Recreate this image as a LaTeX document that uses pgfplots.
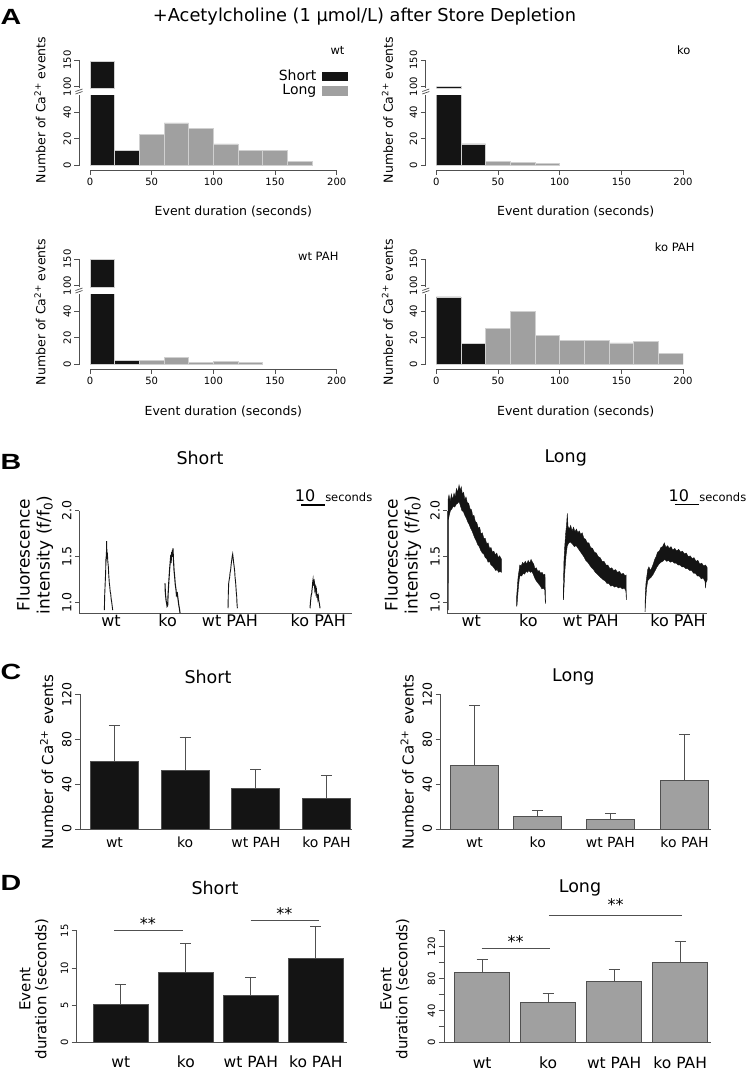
\documentclass[border=0pt]{standalone}
\usepackage{fontspec}
\setmainfont{DejaVu Sans}
\newfontfamily\panelfont{Liberation Sans}
\usepackage{pgfplots}
\pgfplotsset{compat=1.18}
\definecolor{ax}{HTML}{505050}
\definecolor{blk}{HTML}{141414}
\definecolor{gry}{HTML}{A0A0A0}
\definecolor{edge}{HTML}{D0D0D0}
\newcommand{\fs}[1]{\fontsize{#1pt}{#1pt}\selectfont}
\pgfplotsset{
 rbase/.style={
   scale only axis,
   axis x line=bottom, axis y line=left,
   axis line style={-, draw=ax, line width=0.8pt},
   tick style={draw=ax, line width=0.8pt},
   tick align=outside, major tick length=5pt,
   /pgf/number format/assume math mode=true,
   yticklabel style={rotate=90, anchor=south},
 },
 hist/.style={rbase, width=246.7pt, xmin=0, xmax=200,
   axis y line shift=10.5pt,
   tick label style={font=\fs{10}},
 },
 lowh/.style={hist, height=69.8pt, ymin=0, ymax=53, ytick={0,20,40}, xtick={0,50,100,150,200}, axis x line shift=5pt},
 upph/.style={hist, height=28.3pt, ymin=97, ymax=150, ytick={100,150}, axis x line=none, xtick=\empty},
 sbar/.style={ybar interval, fill=blk, draw=edge, line width=0.5pt},
 lbar/.style={ybar interval, fill=gry, draw=edge, line width=0.5pt},
 trace/.style={rbase, clip=false, height=102.6pt, ymin=0.885, ymax=2.0, major tick length=4pt,
   ytick={1,1.5,2}, yticklabels={1.0,1.5,2.0}, xtick style={draw=none},
   yticklabel style={font=\fs{12.5}}, xticklabel style={font=\fs{16}, anchor=base, yshift=-9pt}},
 cbar/.style={rbase, height=134.7pt, ymin=0, ymax=120, ytick={0,40,80,120}, xtick style={draw=none},
   yticklabel style={font=\fs{12.5}}, xticklabel style={font=\fs{14}, anchor=base, yshift=-13pt},
   xticklabels={wt,ko,wt PAH,ko PAH}},
 dbar/.style={rbase, clip=false, height=112pt, ymin=0, xtick style={draw=none},
   yticklabel style={font=\fs{10}}, xticklabel style={font=\fs{15.5}, anchor=base, yshift=-20pt},
   xtick={1,2,3,4}, xticklabels={wt,ko,wt PAH,ko PAH}},
 ebar/.style={ybar, bar shift=0pt, draw=ax, line width=0.8pt,
   error bars/y dir=plus, error bars/y explicit,
   error bars/error bar style={draw=ax, line width=0.8pt},
   error bars/error mark options={rotate=90, draw=ax, line width=0.8pt, mark size=5.5pt}},
}
\begin{document}
\begin{tikzpicture}
\path[use as bounding box] (0,0) rectangle (748pt,-1072pt);

% ---------------- Panel A ----------------
\node[font={\panelfont\bfseries\fs{22}}, xscale=1.3] at (11pt,-17pt) {A};
\node[font=\fs{17.8}] at (364.5pt,-16.7pt) {+Acetylcholine (1 μmol/L) after Store Depletion};

% wt
\begin{axis}[lowh, at={(90pt,-165pt)}, anchor=south west,
  legend style={draw=none, fill=none, at={(1.046,1.36)}, anchor=north east, font=\fs{14},
    inner sep=0pt, row sep=2pt, column sep=6pt, nodes={inner sep=0pt}},
  legend cell align=right, legend plot pos=right]
\addplot[sbar, legend image code/.code={\fill[blk] (0pt,-4pt) rectangle (25pt,4pt);}] coordinates {(0,147)(20,11)(40,0)};
\addlegendentry{Short}
\addplot[lbar, legend image code/.code={\fill[gry] (0pt,-4.5pt) rectangle (25pt,4.5pt);}] coordinates {(40,23)(60,32)(80,28)(100,16)(120,11)(140,11)(160,3)(180,0)};
\addlegendentry{Long}
\end{axis}
\begin{axis}[upph, at={(90pt,-88.3pt)}, anchor=south west]
\addplot[sbar] coordinates {(0,147)(20,0)};
\end{axis}

% ko
\begin{axis}[lowh, at={(436.3pt,-165pt)}, anchor=south west]
\addplot[sbar] coordinates {(0,100)(20,16)(40,0)};
\addplot[lbar] coordinates {(40,3)(60,2)(80,1)(100,0)};
\end{axis}
\begin{axis}[upph, at={(436.3pt,-88.3pt)}, anchor=south west]
\addplot[sbar] coordinates {(0,100)(20,0)};
\end{axis}

% wt PAH
\begin{axis}[lowh, at={(90pt,-364pt)}, anchor=south west]
\addplot[sbar] coordinates {(0,149)(20,3)(40,0)};
\addplot[lbar] coordinates {(40,3)(60,5)(80,1)(100,2)(120,1)(140,0)};
\end{axis}
\begin{axis}[upph, at={(90pt,-287.3pt)}, anchor=south west]
\addplot[sbar] coordinates {(0,149)(20,0)};
\end{axis}

% ko PAH
\begin{axis}[lowh, at={(436.3pt,-364pt)}, anchor=south west]
\addplot[sbar] coordinates {(0,51)(20,15.5)(40,0)};
\addplot[lbar] coordinates {(40,27)(60,40)(80,22)(100,18)(120,18)(140,16)(160,17)(180,8)(200,0)};
\end{axis}
\begin{axis}[upph, at={(436.3pt,-287.3pt)}, anchor=south west]
\addplot[draw=none] coordinates {(0,120)};
\end{axis}

% axis break marks
\foreach \bx/\by in {79/92, 425.8/92, 79/291, 425.8/291}{
  \draw[ax, line width=0.7pt] (\bx pt-3.5pt,-\by pt-2pt) -- (\bx pt+3.5pt,-\by pt+0.5pt)
                             (\bx pt-3.5pt,-\by pt+0.5pt) -- (\bx pt+3.5pt,-\by pt+3pt);
}

% A texts
\node[anchor=east, font=\fs{11.5}] at (348pt,-50pt) {wt};
\node[anchor=east, font=\fs{11.5}] at (694pt,-50pt) {ko};
\node[anchor=east, font=\fs{11.5}] at (342pt,-256pt) {wt PAH};
\node[anchor=east, font=\fs{11.5}] at (698pt,-247pt) {ko PAH};
\foreach \lx/\ly in {40/110, 387.5/110, 40/312, 387.5/312}{
  \node[rotate=90, font=\fs{12.5}] at (\lx pt,-\ly pt) {Number of Ca\textsuperscript{2+} events};
}
\node[font=\fs{12.5}] at (233.3pt,-211.7pt) {Event duration (seconds)};
\node[font=\fs{12.5}] at (575.7pt,-211.7pt) {Event duration (seconds)};
\node[font=\fs{12.5}] at (223.3pt,-411.7pt) {Event duration (seconds)};
\node[font=\fs{12.5}] at (575.7pt,-411.7pt) {Event duration (seconds)};

% ---------------- Panel B ----------------
\node[font={\panelfont\bfseries\fs{22}}, xscale=1.3] at (11pt,-462pt) {B};
\node[font=\fs{17.5}] at (200pt,-458pt) {Short};
\node[font=\fs{17.5}] at (565.7pt,-458pt) {Long};
\node[rotate=90, align=center, font=\fs{17}] at (35pt,-555pt) {Fluorescence\\[3pt]intensity (f/f\textsubscript{0})};
\node[rotate=90, align=center, font=\fs{17}] at (403pt,-555pt) {Fluorescence\\[3pt]intensity (f/f\textsubscript{0})};

\begin{axis}[trace, at={(79pt,-613.3pt)}, anchor=south west, width=272.7pt, xmin=0, xmax=113.6,
  xtick={13.33,36.96,62.9,99.7}, xticklabels={wt,ko,wt PAH,ko PAH}]
\addplot[blk, line width=0.9pt] coordinates {(10.56,0.92)(10.7,1.08)(10.97,1.25)(11.1,1.33)(11.25,1.50)(11.35,1.45)(11.53,1.67)(11.6,1.55)(11.81,1.54)(12.0,1.45)(12.22,1.39)(12.4,1.30)(12.64,1.21)(12.8,1.18)(13.0,1.12)(13.19,1.10)(13.4,1.04)(13.61,1.01)(13.8,0.97)(14.03,0.92)};
\addplot[blk, line width=1.1pt] coordinates {(35.83,1.21)(35.95,1.12)(36.11,1.07)(36.3,1.02)(36.53,0.99)(36.7,0.96)(36.94,0.97)(37.1,1.08)(37.22,1.14)(37.4,1.22)(37.64,1.32)(37.8,1.38)(38.06,1.46)(38.2,1.43)(38.3,1.52)(38.47,1.49)(38.6,1.55)(38.75,1.50)(38.89,1.57)(39.0,1.52)(39.17,1.59)(39.3,1.48)(39.44,1.43)(39.6,1.35)(39.86,1.28)(40.1,1.20)(40.42,1.14)(40.6,1.08)(40.97,1.10)(41.2,1.05)(41.39,1.01)(41.6,0.97)(41.81,0.94)(42.08,0.89)};
\addplot[blk, line width=0.9pt] coordinates {(62.08,0.94)(62.2,1.10)(62.36,1.21)(62.5,1.24)(62.78,1.28)(62.9,1.32)(63.19,1.36)(63.4,1.42)(63.61,1.46)(63.8,1.50)(64.03,1.53)(64.2,1.49)(64.44,1.43)(64.6,1.40)(64.86,1.34)(65.0,1.28)(65.28,1.21)(65.5,1.12)(65.69,1.07)(65.8,1.00)(65.97,0.94)};
\addplot[blk, line width=1.0pt] coordinates {(96.25,0.94)(96.4,1.00)(96.53,1.03)(96.7,1.08)(96.94,1.10)(97.1,1.15)(97.22,1.17)(97.35,1.22)(97.5,1.25)(97.65,1.20)(97.78,1.25)(97.9,1.18)(98.06,1.21)(98.25,1.14)(98.47,1.17)(98.7,1.11)(98.89,1.14)(99.1,1.07)(99.31,1.08)(99.5,1.04)(99.72,1.07)(99.9,1.02)(100.14,0.99)(100.42,0.94)};
\addplot[black, line width=1.4pt] coordinates {(92.5,2.062)(102.5,2.062)};
\node[anchor=base, font=\fs{16}, inner sep=0pt] at (axis cs:94.2,2.10) {10};
\node[anchor=base west, font=\fs{11.5}, inner sep=0pt] at (axis cs:102.5,2.10) {seconds};
\end{axis}

\begin{axis}[trace, at={(447.3pt,-613.3pt)}, anchor=south west, width=260pt, xmin=0, xmax=108.33,
  xtick={10,33.75,59.75,96.1}, xticklabels={wt,ko,wt PAH,ko PAH}]
\addplot[fill=blk, draw=blk, line width=0.4pt] coordinates {(0.28,0.92)(0.3,2.12)(0.7,2.17)(1.2,2.10)(1.7,2.18)(2.2,2.12)(2.8,2.19)(3.3,2.15)(3.8,2.24)(4.3,2.20)(4.9,2.28)(5.4,2.22)(5.8,2.26)(6.3,2.18)(6.8,2.20)(7.3,2.12)(7.8,2.15)(8.3,2.09)(8.9,2.08)(9.5,2.02)(10.1,2.01)(10.6,1.94)(11.1,1.95)(11.7,1.88)(12.3,1.87)(12.9,1.81)(13.5,1.82)(14.0,1.75)(14.6,1.76)(15.2,1.70)(15.8,1.70)(16.4,1.64)(17.0,1.65)(17.6,1.59)(18.2,1.60)(18.8,1.55)(19.4,1.56)(20.0,1.52)(20.6,1.54)(21.2,1.49)(21.8,1.51)(22.6,1.47)
(22.6,1.33)(22.0,1.34)(21.4,1.33)(20.8,1.36)(20.2,1.35)(19.4,1.38)(18.8,1.40)(18.2,1.41)(17.6,1.45)(17.0,1.44)(16.4,1.48)(15.8,1.49)(15.2,1.53)(14.6,1.54)(13.9,1.57)(13.3,1.61)(12.7,1.63)(12.1,1.67)(11.5,1.70)(10.9,1.74)(10.3,1.78)(9.7,1.81)(9.1,1.85)(8.5,1.88)(7.9,1.92)(7.3,1.95)(6.7,1.99)(6.1,2.00)(5.5,2.05)(4.9,2.10)(4.3,2.08)(3.7,2.07)(3.1,2.04)(2.5,2.05)(1.9,2.02)(1.3,2.00)(0.8,1.95)(0.45,1.9)(0.4,0.92)};
\addplot[fill=blk, draw=blk, line width=0.4pt] coordinates {(28.9,0.96)(28.9,1.07)(29.2,1.18)(29.5,1.28)(29.9,1.35)(30.2,1.41)(30.8,1.40)(31.4,1.44)(31.9,1.42)(32.5,1.45)(33.1,1.42)(33.7,1.46)(34.3,1.43)(34.9,1.47)(35.5,1.44)(36.0,1.42)(36.5,1.37)(37.1,1.38)(37.7,1.34)(38.3,1.35)(38.9,1.32)(39.5,1.33)(40.1,1.30)(40.7,1.31)(40.9,1.05)(41.0,0.99)
(40.8,1.02)(40.6,1.14)(40.0,1.16)(39.4,1.15)(38.8,1.18)(38.2,1.20)(37.6,1.22)(37.0,1.24)(36.4,1.27)(35.8,1.31)(35.2,1.34)(34.6,1.33)(34.0,1.35)(33.4,1.33)(32.8,1.34)(32.2,1.31)(31.6,1.32)(31.0,1.29)(30.4,1.30)(30.0,1.26)(29.6,1.16)(29.3,1.06)(29.0,0.96)};
\addplot[fill=blk, draw=blk, line width=0.4pt] coordinates {(48.3,1.03)(48.4,1.20)(48.6,1.45)(48.9,1.60)(49.3,1.75)(49.7,1.85)(50.0,1.97)(50.3,1.83)(50.8,1.80)(51.4,1.84)(52.0,1.78)(52.6,1.82)(53.2,1.77)(53.8,1.80)(54.4,1.76)(55.0,1.78)(55.6,1.74)(56.2,1.76)(56.9,1.70)(57.6,1.69)(58.3,1.65)(59.0,1.65)(59.7,1.60)(60.5,1.59)(61.3,1.55)(62.1,1.54)(62.9,1.50)(63.7,1.49)(64.5,1.45)(65.3,1.45)(66.1,1.41)(66.9,1.41)(67.7,1.37)(68.5,1.38)(69.3,1.35)(70.1,1.36)(70.9,1.33)(71.7,1.34)(72.5,1.31)(73.3,1.32)(74.1,1.29)(74.5,1.30)(74.6,1.03)
(74.4,1.13)(73.7,1.16)(72.9,1.15)(72.1,1.17)(71.3,1.16)(70.5,1.18)(69.7,1.17)(68.9,1.19)(68.1,1.18)(67.3,1.21)(66.5,1.21)(65.7,1.24)(64.9,1.25)(64.1,1.27)(63.3,1.29)(62.5,1.31)(61.7,1.33)(60.9,1.36)(60.1,1.38)(59.3,1.41)(58.5,1.44)(57.7,1.46)(56.9,1.50)(56.1,1.53)(55.3,1.56)(54.5,1.59)(53.7,1.62)(52.9,1.61)(52.1,1.64)(51.3,1.66)(50.6,1.65)(50.0,1.62)(49.5,1.52)(49.0,1.35)(48.6,1.15)(48.4,1.03)};
\addplot[fill=blk, draw=blk, line width=0.4pt] coordinates {(82.36,0.90)(82.5,1.10)(82.8,1.22)(83.1,1.28)(83.5,1.36)(84.0,1.39)(84.6,1.35)(85.2,1.38)(85.8,1.42)(86.4,1.47)(87.0,1.50)(87.6,1.55)(88.3,1.56)(89.0,1.60)(89.7,1.61)(90.4,1.65)(91.1,1.60)(91.8,1.62)(92.5,1.59)(93.2,1.61)(94.0,1.57)(94.8,1.59)(95.6,1.56)(96.4,1.58)(97.2,1.55)(98.0,1.56)(98.8,1.53)(99.6,1.54)(100.4,1.50)(101.2,1.51)(102.0,1.48)(102.8,1.49)(103.6,1.45)(104.4,1.46)(105.2,1.42)(106.0,1.43)(106.8,1.40)(107.6,1.41)(108.3,1.38)
(108.3,1.25)(107.8,1.22)(107.6,1.16)(107.4,1.23)(106.6,1.27)(105.8,1.26)(105.0,1.29)(104.2,1.29)(103.4,1.32)(102.6,1.32)(101.8,1.35)(101.0,1.35)(100.2,1.37)(99.4,1.37)(98.6,1.39)(97.8,1.39)(97.0,1.41)(96.2,1.41)(95.4,1.43)(94.6,1.43)(93.8,1.45)(93.0,1.44)(92.2,1.46)(91.4,1.45)(90.6,1.47)(89.8,1.45)(89.0,1.44)(88.2,1.42)(87.4,1.39)(86.6,1.35)(85.8,1.31)(85.0,1.28)(84.2,1.26)(83.5,1.24)(83.0,1.15)(82.6,1.00)(82.4,0.90)};
\addplot[black, line width=1.4pt] coordinates {(94.8,2.067)(104.8,2.067)};
\node[anchor=base, font=\fs{16}, inner sep=0pt] at (axis cs:96.5,2.105) {10};
\node[anchor=base west, font=\fs{11.5}, inner sep=0pt] at (axis cs:104.9,2.105) {seconds};
\end{axis}

% ---------------- Panel C ----------------
\node[font={\panelfont\bfseries\fs{22}}, xscale=1.3] at (11pt,-672pt) {C};
\node[font=\fs{17.5}] at (208pt,-676.7pt) {Short};
\node[font=\fs{17.5}] at (573.3pt,-676.7pt) {Long};
\node[rotate=90, font=\fs{15}] at (46.7pt,-762pt) {Number of Ca\textsuperscript{2+} events};
\node[rotate=90, font=\fs{15}] at (407.3pt,-762pt) {Number of Ca\textsuperscript{2+} events};

\begin{axis}[cbar, at={(80pt,-829pt)}, anchor=south west, width=272pt, xmin=0.512, xmax=4.361, xtick={1,2,3,4}]
\addplot[bar width=48pt, fill=blk, ebar] coordinates {(1,60.1)+-(0,32.3) (2,52.1)+-(0,29.9) (3,36.4)+-(0,16.9) (4,27.3)+-(0,20.7)};
\end{axis}
\begin{axis}[cbar, at={(440.7pt,-829pt)}, anchor=south west, width=270pt, xmin=0.517, xmax=4.374, xtick={1,1.904,2.94,4}]
\addplot[bar width=48pt, fill=gry, ebar] coordinates {(1,56.6)+-(0,53.9) (1.904,11.3)+-(0,5.3) (2.94,8.3)+-(0,5.9) (4,43.6)+-(0,40.5)};
\end{axis}

% ---------------- Panel D ----------------
\node[font={\panelfont\bfseries\fs{22}}, xscale=1.3] at (11pt,-883pt) {D};
\node[font=\fs{17.5}] at (215pt,-888.3pt) {Short};
\node[font=\fs{17.5}] at (580pt,-888.3pt) {Long};
\node[rotate=90, align=center, font=\fs{15}] at (34pt,-989pt) {Event\\[1pt]duration (seconds)};
\node[rotate=90, align=center, font=\fs{15}] at (395pt,-989pt) {Event\\[1pt]duration (seconds)};

\begin{axis}[dbar, at={(76.7pt,-1042.7pt)}, anchor=south west, width=270pt, xmin=0.3215, xmax=4.475, ymax=15, ytick={0,5,10,15}]
\addplot[bar width=55pt, fill=blk, ebar] coordinates {(1,5.18)+-(0,2.68) (2,9.375)+-(0,3.885) (3,6.38)+-(0,2.37) (4,11.3)+-(0,4.28)};
\addplot[ax, line width=0.8pt] coordinates {(0.9,15.0)(1.952,15.0)};
\addplot[ax, line width=0.8pt] coordinates {(2.998,16.43)(4.049,16.43)};
\node[font=\fs{16}] at (axis cs:1.418,15.9) {**};
\node[font=\fs{16}] at (axis cs:3.515,17.3) {**};
\end{axis}
\begin{axis}[dbar, at={(444.7pt,-1042.7pt)}, anchor=south west, width=266pt, xmin=0.432, xmax=4.462, ymax=140, major tick length=6pt,
  ytick={0,20,40,60,80,100,120,140}, yticklabels={0,,40,,80,,120,}]
\addplot[bar width=55pt, fill=gry, ebar] coordinates {(1,87.5)+-(0,17.1) (2,50)+-(0,11.25) (3,77.1)+-(0,14.6) (4,100.4)+-(0,25.85)};
\addplot[ax, line width=0.8pt] coordinates {(0.992,118)(2.027,118)};
\addplot[ax, line width=0.8pt] coordinates {(2.012,159.6)(4.032,159.6)};
\node[font=\fs{16}] at (axis cs:1.508,127) {**};
\node[font=\fs{16}] at (axis cs:3.023,173) {**};
\end{axis}
\end{tikzpicture}
\end{document}
